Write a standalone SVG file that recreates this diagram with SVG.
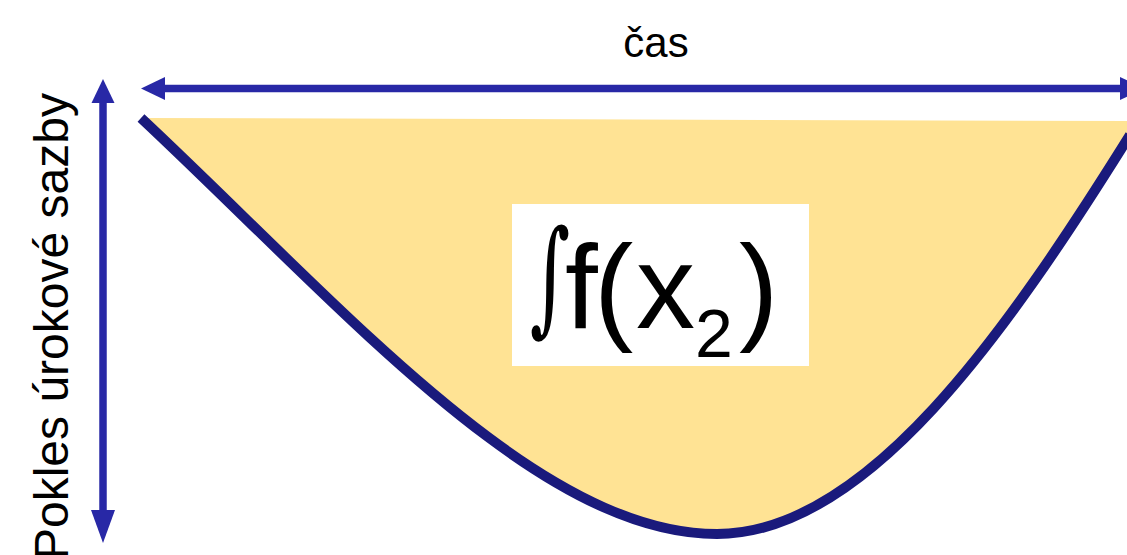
<svg xmlns="http://www.w3.org/2000/svg" width="1127" height="555" viewBox="0 0 1127 555">
<style>
.ax{stroke:#2828A6;stroke-width:7.5;fill:none}
.ah{fill:#2828A6;stroke:none}
.lbl{font-family:"Liberation Sans",Arial,sans-serif;fill:#000}
.int{font-family:"DejaVu Serif",serif;fill:#000}
</style>
<rect width="1127" height="555" fill="#fff"/>
<g id="area">
<path d="M143,118 C343,307 537,534 717,534 C867,534 1007,332 1127,140 L1127,121 Z" fill="#FFE394"/>
<path d="M141,118 C343,307 537,534 717,534 C867,534 1007,332 1130,135" fill="none" stroke="#1A1A7C" stroke-width="10"/>
</g>
<g id="connectors">
<line class="ax" x1="160" y1="88.5" x2="1127" y2="88.5"/>
<polygon class="ah" points="141,88.5 165,77 165,100"/>
<polygon class="ah" points="1144,88.5 1120,77 1120,100"/>
<line class="ax" x1="103" y1="100" x2="103" y2="515"/>
<polygon class="ah" points="103,79 91.5,103 114.5,103"/>
<polygon class="ah" points="103,543 91,510 115,510"/>
</g>
<g id="label-box">
<rect x="512" y="204" width="297" height="162" fill="#fff"/>
<text class="int" font-size="125" transform="translate(530,319) scale(0.62,1)">∫</text>
<text class="lbl" y="328" font-size="118"><tspan x="565">f</tspan><tspan x="594">(</tspan><tspan x="636">x</tspan><tspan x="695" y="357" font-size="68">2</tspan><tspan x="739" y="328">)</tspan></text>
</g>
<g id="time-label">
<text class="lbl" x="656" y="57" font-size="42" text-anchor="middle">čas</text>
</g>
<g id="rate-label">
<text class="lbl" font-size="48" transform="translate(68,560) rotate(-90)">Pokles úrokové sazby</text>
</g>
</svg>
